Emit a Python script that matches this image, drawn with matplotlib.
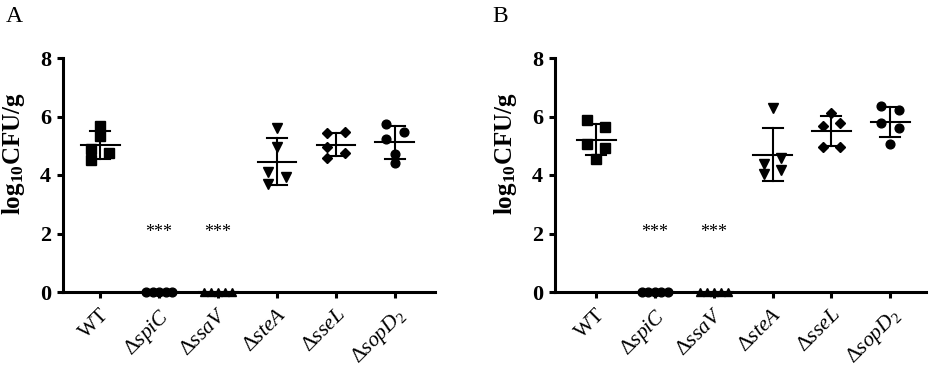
import numpy as np
import matplotlib
matplotlib.use("Agg")
import matplotlib.pyplot as plt

plt.rcParams['font.family'] = ['Liberation Serif', 'DejaVu Serif']
plt.rcParams['mathtext.fontset'] = 'custom'
plt.rcParams['mathtext.rm'] = 'Liberation Serif'
plt.rcParams['mathtext.it'] = 'Liberation Serif:italic'
plt.rcParams['mathtext.bf'] = 'Liberation Serif:bold'

categories = ['WT', r'$\Delta\mathit{spiC}$', r'$\Delta\mathit{ssaV}$',
              r'$\Delta\mathit{steA}$', r'$\Delta\mathit{sseL}$', r'$\Delta\mathit{sopD}_{\mathrm{2}}$']
markers = ['s', 'o', '^', 'v', 'D', 'o']
msizes = [6.8, 6.3, 6.3, 6.8, 5.6, 6.3]

# Panel A values (log10 CFU/g)
A_WT = [5.67, 5.33, 4.88, 4.74, 4.51]
A_spiC = [0, 0, 0, 0, 0]
A_ssaV = [0, 0, 0, 0, 0]
A_steA = [5.60, 4.97, 4.11, 3.92, 3.69]
A_sseL = [5.44, 5.48, 4.96, 4.58, 4.74]
A_sopD2 = [5.74, 5.48, 5.22, 4.72, 4.40]

# Panel B values
B_WT = [5.87, 5.63, 5.06, 4.92, 4.55]
B_spiC = [0, 0, 0, 0, 0]
B_ssaV = [0, 0, 0, 0, 0]
B_steA = [6.29, 4.58, 4.39, 4.18, 4.05]
B_sseL = [6.12, 5.67, 5.78, 4.96, 4.96]
B_sopD2 = [6.35, 6.21, 5.78, 5.61, 5.06]

signif = ['', '***', '***', '', '', '']
yticks = [0, 2, 4, 6, 8]

# horizontal scatter offsets (layout)
zero_circ = [-0.22, -0.11, 0, 0.11, 0.22]
zero_tri = [-0.24, -0.12, 0, 0.12, 0.24]
offs_A = [[0, 0, -0.15, 0.15, -0.15], zero_circ, zero_tri,
          [0, 0, -0.15, 0.15, -0.15], [-0.15, 0.15, -0.15, -0.15, 0.15],
          [-0.15, 0.15, -0.15, 0, 0]]
offs_B = [[-0.15, 0.15, -0.15, 0.15, 0], zero_circ, zero_tri,
          [0, 0.15, -0.15, 0.15, -0.15], [0, -0.15, 0.15, -0.15, 0.15],
          [-0.15, 0.15, -0.15, 0.15, 0]]

W, H = 935, 370
fig = plt.figure(figsize=(W / 100, H / 100), dpi=100)

def panel(rect, groups, offs, xlim, letter, letter_xy):
    ax = fig.add_axes(rect)
    for i, (vals, off) in enumerate(zip(groups, offs)):
        vals = np.array(vals, dtype=float)
        xs = i + np.array(off)
        ax.plot(xs, vals, linestyle='none', marker=markers[i], ms=msizes[i],
                color='black', clip_on=False, zorder=3)
        m = vals.mean()
        sd = vals.std(ddof=1)
        ax.plot([i - 0.33, i + 0.33], [m, m], color='black', lw=1.5, zorder=4)
        if sd > 0:
            ax.plot([i, i], [m - sd, m + sd], color='black', lw=1.5, zorder=4)
            for yy in (m - sd, m + sd):
                ax.plot([i - 0.17, i + 0.17], [yy, yy], color='black', lw=1.5, zorder=4)
        if signif[i]:
            ax.text(i, 2.02, signif[i], ha='center', va='center', fontsize=13,
                    family=['Liberation Serif'])
    ax.set_xlim(*xlim)
    ax.set_ylim(0, 8)
    ax.set_yticks(yticks)
    ax.set_yticklabels([str(t) for t in yticks], fontsize=16, fontweight='bold')
    ax.set_xticks(range(len(categories)))
    ax.set_xticklabels(categories, rotation=45, ha='right', va='top',
                       rotation_mode='anchor', fontsize=15.5)
    ax.spines['top'].set_visible(False)
    ax.spines['right'].set_visible(False)
    for s in ('left', 'bottom'):
        ax.spines[s].set_linewidth(2.2)
    ax.tick_params(axis='both', direction='out', length=4.5, width=2.2)
    ax.tick_params(axis='x', pad=5)
    ax.tick_params(axis='y', pad=4)
    ax.set_ylabel(r'$\mathbf{log}_{\mathbf{10}}\mathbf{CFU/g}$', fontsize=18,
                  va='bottom')
    ax.yaxis.set_label_coords(-0.096, 0.59)
    fig.text(letter_xy[0] / W, 1 - letter_xy[1] / H, letter, fontsize=17,
             ha='left', va='center', family=['Liberation Serif'])
    return ax

bot = 1 - 292 / H
top = 1 - 58 / H
hgt = top - bot
panel([63 / W, bot, 372 / W, hgt],
      [A_WT, A_spiC, A_ssaV, A_steA, A_sseL, A_sopD2], offs_A,
      (-0.63, 5.68), 'A', (6, 17))
panel([555 / W, bot, 371 / W, hgt],
      [B_WT, B_spiC, B_ssaV, B_steA, B_sseL, B_sopD2], offs_B,
      (-0.70, 5.61), 'B', (492, 16))

fig.savefig('out.png', dpi=100)
